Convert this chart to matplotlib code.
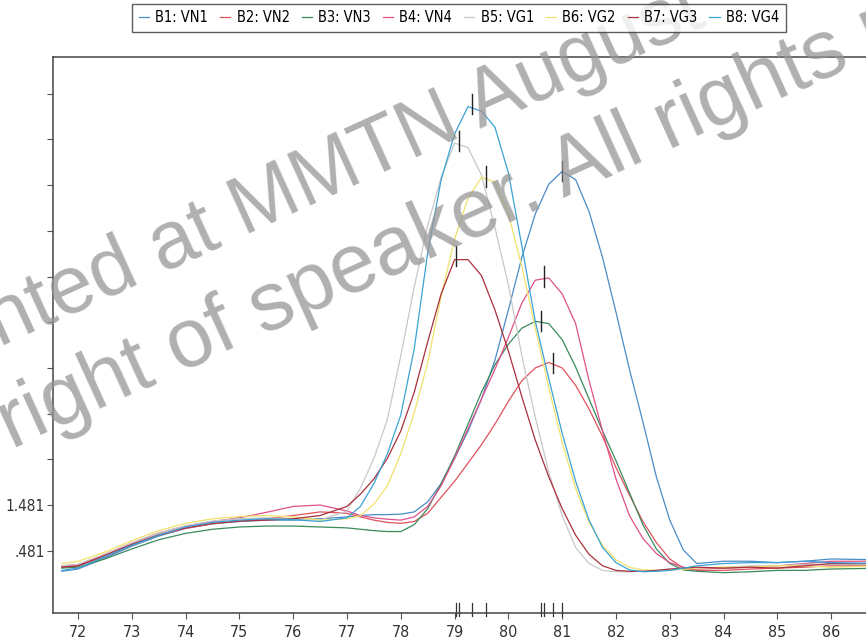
import matplotlib
matplotlib.use('Agg')
import matplotlib.pyplot as plt
import matplotlib.font_manager as fm
from matplotlib.transforms import blended_transform_factory

# melt temperature grid (deg C)
temps = [71.7, 72.0, 72.5, 73.0, 73.5, 74.0, 74.5, 75.0, 75.5, 76.0, 76.5,
         77.0, 77.25, 77.5, 77.75, 78.0, 78.25, 78.5, 78.75, 79.0, 79.25,
         79.5, 79.75, 80.0, 80.25, 80.5, 80.75, 81.0, 81.25, 81.5, 81.75,
         82.0, 82.25, 82.5, 82.75, 83.0, 83.25, 83.5, 84.0, 84.5, 85.0,
         85.5, 86.0, 87.0]

# -dF/dT readings per well
vn1 = [0.03, 0.08, 0.32, 0.58, 0.80, 0.97, 1.07, 1.12, 1.15, 1.15, 1.18,
       1.22, 1.25, 1.27, 1.27, 1.28, 1.33, 1.55, 1.95, 2.50, 3.10,
       3.80, 4.65, 5.75, 6.90, 7.85, 8.50, 8.78, 8.60, 7.90, 6.90,
       5.70, 4.45, 3.30, 2.10, 1.15, 0.50, 0.20, 0.25, 0.25, 0.22,
       0.25, 0.30, 0.28]
vn2 = [0.12, 0.15, 0.35, 0.60, 0.82, 0.97, 1.07, 1.13, 1.18, 1.25, 1.33,
       1.30, 1.22, 1.15, 1.10, 1.08, 1.12, 1.30, 1.65, 2.00, 2.40,
       2.80, 3.25, 3.75, 4.20, 4.48, 4.60, 4.48, 4.10, 3.58, 2.98,
       2.30, 1.70, 1.12, 0.66, 0.30, 0.10, 0.05, 0.05, 0.08, 0.10,
       0.12, 0.15, 0.15]
vn3 = [0.10, 0.12, 0.30, 0.52, 0.72, 0.86, 0.95, 1.00, 1.02, 1.02, 1.00,
       0.98, 0.95, 0.92, 0.90, 0.90, 1.05, 1.40, 1.95, 2.55, 3.25,
       3.95, 4.55, 5.00, 5.35, 5.50, 5.45, 5.10, 4.50, 3.80, 3.10,
       2.45, 1.75, 1.05, 0.52, 0.20, 0.06, 0.03, 0.00, 0.02, 0.05,
       0.05, 0.08, 0.10]
vn4 = [0.15, 0.18, 0.40, 0.65, 0.87, 1.02, 1.12, 1.20, 1.32, 1.45, 1.48,
       1.35, 1.25, 1.20, 1.17, 1.15, 1.22, 1.45, 1.90, 2.50, 3.15,
       3.80, 4.45, 5.15, 5.90, 6.40, 6.45, 6.10, 5.45, 4.20, 3.10,
       2.05, 1.25, 0.75, 0.42, 0.22, 0.12, 0.08, 0.10, 0.12, 0.15,
       0.20, 0.25, 0.25]
vg1 = [0.15, 0.18, 0.40, 0.65, 0.87, 1.03, 1.13, 1.18, 1.20, 1.18, 1.15,
       1.35, 1.85, 2.50, 3.35, 4.75, 6.25, 7.60, 8.65, 9.40, 9.30,
       8.70, 7.55, 6.30, 4.75, 3.40, 2.20, 1.25, 0.55, 0.20, 0.05,
       0.02, 0.02, 0.03, 0.05, 0.05, 0.08, 0.10, 0.12, 0.15, 0.15,
       0.18, 0.18, 0.18]
vg2 = [0.20, 0.25, 0.45, 0.70, 0.92, 1.08, 1.18, 1.23, 1.25, 1.22, 1.15,
       1.18, 1.25, 1.50, 1.90, 2.60, 3.50, 4.60, 6.05, 7.30, 8.20,
       8.65, 8.55, 7.85, 6.70, 5.35, 4.05, 2.85, 1.85, 1.10, 0.60,
       0.28, 0.12, 0.06, 0.05, 0.06, 0.08, 0.10, 0.12, 0.12, 0.15,
       0.15, 0.12, 0.15]
vg3 = [0.12, 0.15, 0.38, 0.62, 0.83, 0.98, 1.08, 1.13, 1.15, 1.18, 1.25,
       1.45, 1.72, 2.05, 2.50, 3.10, 3.95, 5.05, 6.10, 6.85, 6.85,
       6.50, 5.75, 4.85, 3.85, 2.90, 2.10, 1.40, 0.82, 0.40, 0.15,
       0.05, 0.03, 0.03, 0.05, 0.08, 0.10, 0.12, 0.10, 0.12, 0.10,
       0.15, 0.20, 0.20]
vg4 = [0.05, 0.10, 0.35, 0.60, 0.82, 1.00, 1.10, 1.15, 1.18, 1.16, 1.12,
       1.20, 1.45, 1.95, 2.60, 3.45, 4.90, 7.00, 8.60, 9.60, 10.20,
       10.10, 9.75, 8.75, 7.15, 5.50, 4.25, 3.05, 2.00, 1.15, 0.55,
       0.22, 0.06, 0.02, 0.03, 0.05, 0.10, 0.15, 0.20, 0.22, 0.22,
       0.25, 0.22, 0.20]

labels = ['B1: VN1', 'B2: VN2', 'B3: VN3', 'B4: VN4',
          'B5: VG1', 'B6: VG2', 'B7: VG3', 'B8: VG4']
series = [vn1, vn2, vn3, vn4, vg1, vg2, vg3, vg4]
colors = ['#4a8cc8', '#e0525c', '#3a8a5c', '#e0508a',
          '#c8c8c8', '#f0e26a', '#a8303c', '#3aa2d4']

# melting peaks (Tm) and the height the marker sits at
tm = [81.0, 80.83, 80.6, 80.67, 79.08, 79.58, 79.03, 79.33]
tm_height = [8.81, 4.61, 5.53, 6.50, 9.47, 8.70, 6.95, 10.28]

ytick_vals = [0.481 + k for k in range(11)]
ytick_text = ['.481', '1.481'] + [''] * 9

# look for a narrow face for the tick and legend text
narrow_path = None
for f in fm.fontManager.ttflist:
    if f.style != 'normal' or f.weight not in (400, 'normal', 'regular'):
        continue
    if 'Narrow' in f.name or 'condensed' in str(f.stretch) or 'Condensed' in f.fname:
        if narrow_path is None or 'Liberation' in f.name:
            narrow_path = f.fname

def tick_font(size):
    if narrow_path:
        return fm.FontProperties(fname=narrow_path, size=size)
    return fm.FontProperties(family='Liberation Sans', size=size * 0.9)

plt.rcParams['font.family'] = ['Liberation Sans', 'DejaVu Sans']

fig = plt.figure(figsize=(8.66, 6.42), dpi=100)
ax = fig.add_axes([0.0612, 0.0452, 0.9607, 0.866])

for vals, lab, col in zip(series, labels, colors):
    ax.plot(temps, vals, color=col, lw=0.9, label=lab)

# peak markers on the curves
for t, h in zip(tm, tm_height):
    ax.plot([t, t], [h - 0.25, h + 0.2], color='#222222', lw=1.0)

# Tm markers along the x axis
trans = blended_transform_factory(ax.transData, ax.transAxes)
for t in tm:
    ax.plot([t, t], [-0.006, 0.018], color='#333333', lw=0.9,
            transform=trans, clip_on=False)

ax.set_xlim(71.535, 87.0)
ax.set_ylim(-0.882, 11.284)
ax.set_xticks(range(72, 87))
ax.set_yticks(ytick_vals)
ax.set_yticklabels(ytick_text)
ax.tick_params(axis='both', direction='out', length=4, width=0.8,
               colors='#555555', labelcolor='#333333')
ax.tick_params(axis='x', pad=5)
ax.tick_params(axis='y', pad=2)
for lbl in ax.get_xticklabels():
    lbl.set_fontproperties(tick_font(11.5))
for lbl in ax.get_yticklabels():
    lbl.set_fontproperties(tick_font(11))
for side in ['left', 'bottom', 'top']:
    ax.spines[side].set_color('#444444')
    ax.spines[side].set_linewidth(1.1)
ax.spines['right'].set_visible(False)

leg = fig.legend(loc='center', bbox_to_anchor=(459 / 866, 1 - 18 / 642),
                 ncol=8, prop=tick_font(10.5),
                 handlelength=0.7, handletextpad=0.45,
                 columnspacing=0.8, borderpad=0.45, frameon=True,
                 fancybox=False)
leg.get_frame().set_edgecolor('#333333')
leg.get_frame().set_linewidth(1.0)

# watermark laid over the chart; each line is split where the edge cuts it
wm = dict(color='#959595', alpha=0.75, rotation=24.5,
          rotation_mode='anchor', va='baseline',
          family=['Liberation Sans', 'DejaVu Sans'])
fig.text(708 / 866, 1 - 24 / 642, 'Presented at MMTN August',
         fontsize=58, ha='right', **wm)
fig.text(852 / 866, 1 - 66 / 642, 'Copyright of speaker. All rights',
         fontsize=59.5, ha='right', **wm)
fig.text(852 / 866, 1 - 66 / 642, ' reserved.',
         fontsize=59.5, ha='left', **wm)

fig.savefig('out.png', dpi=100)
